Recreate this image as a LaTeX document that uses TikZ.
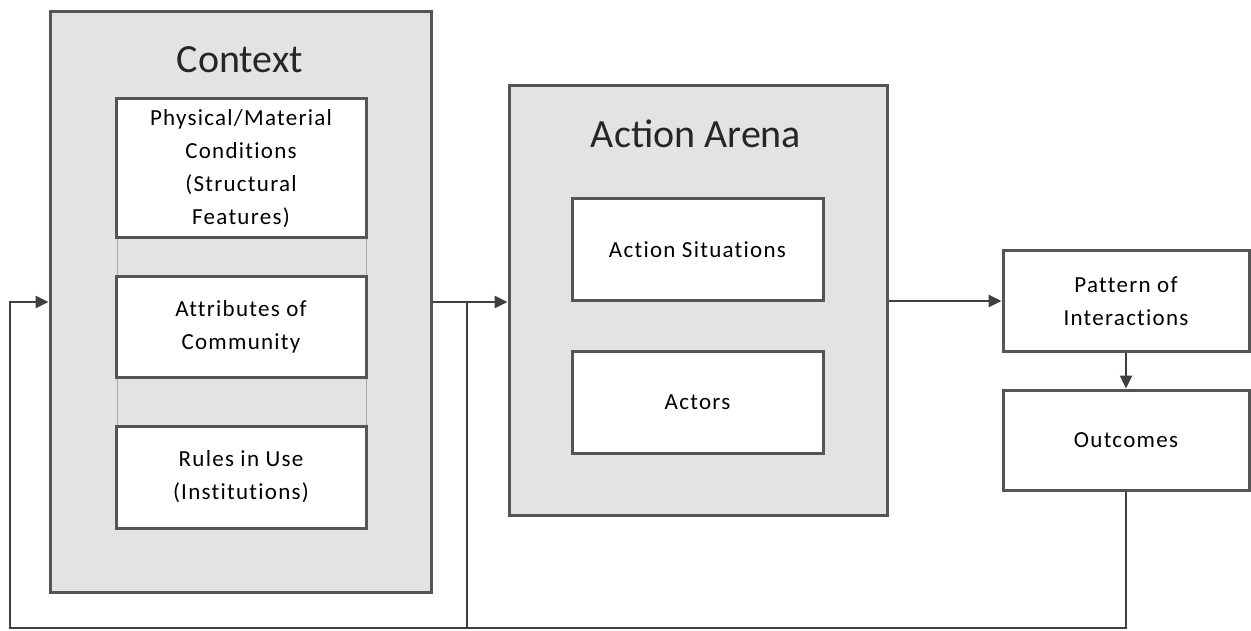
\documentclass[tikz,border=0pt]{standalone}
\usepackage{fontspec}
\setmainfont{Carlito}
\newfontfamily\boxfont{Carlito}[LetterSpace=5.5, Ligatures=NoCommon]
\usetikzlibrary{arrows.meta}
\definecolor{panelgray}{HTML}{E3E3E3}
\definecolor{bordergray}{HTML}{555555}
\definecolor{linegray}{HTML}{404040}
\definecolor{thingray}{HTML}{A8A8A8}
\begin{document}
\begin{tikzpicture}[x=1pt,y=-1pt,
  outer/.style={draw=bordergray, line width=3pt, fill=panelgray, inner sep=0pt},
  inbox/.style={draw=bordergray, line width=3pt, fill=white, align=center, inner sep=0pt,
    font=\boxfont\fontsize{23}{33}\selectfont},
  title/.style={font=\fontsize{40}{46}\selectfont, inner sep=0pt, text=black!85},
  conn/.style={draw=linegray, line width=2.5pt},
  arr/.style={conn, -{Triangle[length=13pt,width=12pt]}}]
\useasboundingbox (0,0) rectangle (1251,631);
% Context panel
\node[outer, minimum width=381pt, minimum height=580pt] (ctx) at (240.5,302) {};
\node[title] (ctxt) at (240,60) {Context};
\draw[thingray, line width=1pt] (117,238) -- (117,426) (366,238) -- (366,426);
\node[inbox, minimum width=250pt, minimum height=139pt] (phys) at (241,168.5)
  {Physical/Material\\Conditions\\(Structural\\Features)};
\node[inbox, minimum width=250pt, minimum height=100pt] (attr) at (241,327)
  {Attributes of\\Community};
\node[inbox, minimum width=250pt, minimum height=102pt] (rules) at (241,477)
  {Rules in Use\\(Institutions)};
% Action arena
\node[outer, minimum width=378pt, minimum height=429pt] (arena) at (698,300.5) {};
\node[title] (arenat) at (696,134) {Action Arena};
\node[inbox, minimum width=251pt, minimum height=102pt] (sit) at (697.5,250) {Action Situations};
\node[inbox, minimum width=251pt, minimum height=102pt] (actors) at (697.5,402) {Actors};
% Right boxes
\node[inbox, minimum width=246pt, minimum height=100pt] (pat) at (1126,301) {Pattern of\\Interactions};
\node[inbox, minimum width=246pt, minimum height=100pt] (out) at (1126,440) {Outcomes};
% Connectors
\coordinate (j) at (467,302);
\coordinate (bl) at (10,628);
\coordinate (tl) at (10,302);
\draw[arr] (ctx.east |- j) -- (arena.west |- j);
\draw[conn] (j) -- (j |- bl);
\draw[arr] (out.south) -- (out.south |- bl) -- (bl) -- (tl) -- (ctx.west |- tl);
\draw[arr] (arena.east |- pat.west) -- (pat.west);
\draw[arr] (pat.south) -- (out.north);
\end{tikzpicture}
\end{document}
